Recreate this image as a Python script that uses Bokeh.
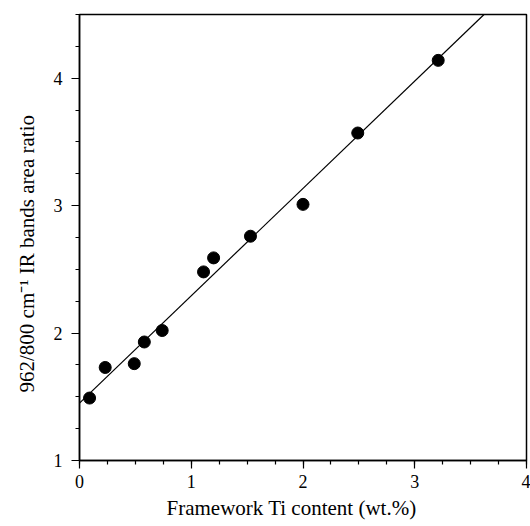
from bokeh.plotting import figure
from bokeh.models import FixedTicker, Range1d, Title
from bokeh.embed import file_html
from bokeh.resources import INLINE

ti_content = [0.09, 0.23, 0.49, 0.58, 0.74, 1.11, 1.20, 1.53, 2.00, 2.49, 3.21]
area_ratio = [1.49, 1.73, 1.76, 1.93, 2.02, 2.48, 2.59, 2.76, 3.01, 3.57, 4.14]
fit_x = [0.0, 3.62]
fit_y = [1.45, 4.50]
x_ticks = [0, 1, 2, 3, 4]
y_ticks = [1, 2, 3, 4]
x_minor = [i * 0.25 for i in range(17)]
y_minor = [1 + i * 0.25 for i in range(15)]
x_title = "Framework Ti content (wt.%)"
y_title = "962/800 cm\u207b\u00b9 IR bands area ratio"

p = figure(width=530, height=526, output_backend="svg", toolbar_location=None,
           x_range=Range1d(0, 4), y_range=Range1d(1, 4.5))
p.min_border_left = 79
p.min_border_right = 4
p.min_border_top = 14
p.min_border_bottom = 66
p.background_fill_color = "white"
p.border_fill_color = "white"
p.outline_line_color = "black"
p.outline_line_width = 1.5
p.xgrid.visible = False
p.ygrid.visible = False

p.line(fit_x, fit_y, line_color="black", line_width=1.2)
p.scatter(ti_content, area_ratio, size=12, fill_color="black", line_color="black")

font = "Liberation Serif"
p.xaxis.ticker = FixedTicker(ticks=x_ticks, minor_ticks=x_minor)
p.yaxis.ticker = FixedTicker(ticks=y_ticks, minor_ticks=y_minor)
for ax in (p.xaxis, p.yaxis):
    ax.axis_line_color = "black"
    ax.axis_line_width = 1.5
    ax.major_tick_line_color = "black"
    ax.minor_tick_line_color = "black"
    ax.major_tick_line_width = 1.2
    ax.minor_tick_line_width = 1.2
    ax.major_tick_in = 0
    ax.major_tick_out = 8
    ax.minor_tick_in = 0
    ax.minor_tick_out = 4
    ax.major_label_text_font = font
    ax.major_label_text_font_size = "18px"
    ax.major_label_text_color = "black"
p.xaxis.major_label_standoff = 6
p.yaxis.major_label_standoff = 9

p.add_layout(Title(text=x_title, align="left", offset=87, standoff=6,
                   text_font=font, text_font_size="21px", text_font_style="normal",
                   text_color="black"), "below")
p.add_layout(Title(text=y_title, align="left", offset=68, standoff=24,
                   text_font=font, text_font_size="21px", text_font_style="normal",
                   text_color="black"), "left")

open("out.html", "w").write(file_html(p, INLINE))
